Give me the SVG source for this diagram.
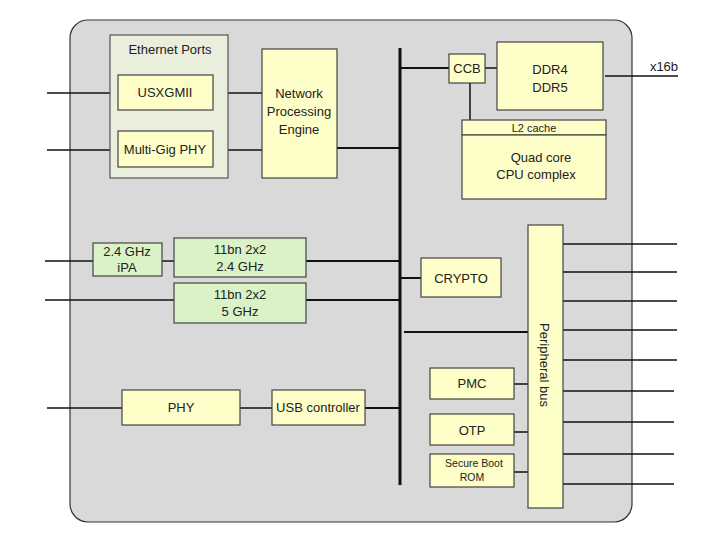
<svg xmlns="http://www.w3.org/2000/svg" width="720" height="555" viewBox="0 0 720 555">
<style>
.b{fill:#fefec8;stroke:#444;stroke-width:1.2}
.g{fill:#d9f3c6;stroke:#444;stroke-width:1.2}
text{font-family:"Liberation Sans",Arial,sans-serif;font-size:13px;fill:#222;text-anchor:middle}
.c line{stroke:#111;stroke-width:1.5}
</style>
<rect x="0" y="0" width="720" height="555" fill="#fff"/>
<rect x="70" y="20" width="562" height="502" rx="18" fill="#d9d9d9" stroke="#333" stroke-width="1.2"/>
<g class="c">
<line x1="47" y1="93" x2="118" y2="93"/><line x1="213" y1="93" x2="262" y2="93"/>
<line x1="47" y1="150" x2="118" y2="150"/><line x1="213" y1="150" x2="262" y2="150"/>
<line x1="337" y1="148" x2="400" y2="148" style="stroke-width:2"/>
<line x1="400" y1="48" x2="400" y2="485" style="stroke-width:3"/>
<line x1="400" y1="68" x2="449" y2="68" style="stroke-width:2"/>
<line x1="485" y1="68" x2="497" y2="68"/>
<line x1="470" y1="83" x2="470" y2="120"/>
<line x1="605" y1="76" x2="678" y2="76"/>
<line x1="45" y1="261" x2="93" y2="261"/><line x1="162" y1="261" x2="174" y2="261"/><line x1="306" y1="261" x2="400" y2="261" style="stroke-width:2"/>
<line x1="45" y1="300" x2="174" y2="300"/><line x1="306" y1="300" x2="400" y2="300" style="stroke-width:2"/>
<line x1="400" y1="278" x2="421" y2="278" style="stroke-width:2"/>
<line x1="404" y1="332" x2="528" y2="332" style="stroke-width:2"/>
<line x1="47" y1="408" x2="122" y2="408"/><line x1="240" y1="408" x2="272" y2="408"/><line x1="365" y1="408" x2="400" y2="408" style="stroke-width:2"/>
<line x1="514" y1="384" x2="528" y2="384"/><line x1="514" y1="432" x2="528" y2="432"/><line x1="514" y1="472" x2="528" y2="472"/>
<line x1="563" y1="244" x2="677" y2="244"/><line x1="563" y1="272" x2="677" y2="272"/><line x1="563" y1="301" x2="677" y2="301"/>
<line x1="563" y1="330" x2="677" y2="330"/><line x1="563" y1="360" x2="677" y2="360"/><line x1="563" y1="391" x2="674" y2="391"/>
<line x1="563" y1="422" x2="674" y2="422"/><line x1="563" y1="454" x2="674" y2="454"/><line x1="563" y1="484" x2="674" y2="484"/>
</g>
<g id="eth"><rect x="110" y="35" width="118" height="143" fill="#e9eedd" stroke="#555" stroke-width="1.2"/><text x="170" y="54">Ethernet Ports</text></g>
<g id="usx"><rect class="b" x="118" y="75" width="95" height="35"/><text x="165" y="97">USXGMII</text></g>
<g id="mg"><rect class="b" x="118" y="131" width="95" height="36"/><text x="165" y="154">Multi-Gig PHY</text></g>
<g id="npe"><rect class="b" x="262" y="49" width="75" height="129"/><text x="299" y="98">Network</text><text x="299" y="116">Processing</text><text x="299" y="134">Engine</text></g>
<g id="ccb"><rect class="b" x="449" y="54" width="36" height="29"/><text x="467" y="73">CCB</text></g>
<g id="ddr"><rect class="b" x="497" y="42" width="106" height="68"/><text x="550" y="74">DDR4</text><text x="550" y="92">DDR5</text></g>
<text x="664" y="71">x16b</text>
<g id="cpu"><rect class="b" x="462" y="120" width="144" height="15"/><text x="534" y="132" style="font-size:11px">L2 cache</text><rect class="b" x="462" y="135" width="144" height="64"/><text x="541" y="162">Quad core</text><text x="536" y="179">CPU complex</text></g>
<g id="ipa"><rect class="g" x="93" y="243" width="69" height="33"/><text x="127" y="256">2.4 GHz</text><text x="127" y="272">iPA</text></g>
<g id="w24"><rect class="g" x="174" y="238" width="132" height="39"/><text x="240" y="254">11bn 2x2</text><text x="240" y="271">2.4 GHz</text></g>
<g id="w5"><rect class="g" x="174" y="283" width="132" height="40"/><text x="240" y="299">11bn 2x2</text><text x="240" y="316">5 GHz</text></g>
<g id="crypto"><rect class="b" x="421" y="258" width="80" height="39"/><text x="461" y="283">CRYPTO</text></g>
<g id="pbus"><rect class="b" x="528" y="225" width="35" height="283"/><text transform="translate(540,365) rotate(90)">Peripheral bus</text></g>
<g id="pmc"><rect class="b" x="430" y="368" width="84" height="31"/><text x="472" y="388">PMC</text></g>
<g id="otp"><rect class="b" x="430" y="414" width="84" height="31"/><text x="472" y="435">OTP</text></g>
<g id="rom"><rect class="b" x="430" y="454" width="84" height="33"/><text x="474" y="467" style="font-size:10.5px">Secure Boot</text><text x="472" y="481" style="font-size:10.5px">ROM</text></g>
<g id="phy"><rect class="b" x="122" y="390" width="118" height="35"/><text x="181" y="412">PHY</text></g>
<g id="usb"><rect class="b" x="272" y="390" width="93" height="35"/><text x="318" y="412">USB controller</text></g>
</svg>
